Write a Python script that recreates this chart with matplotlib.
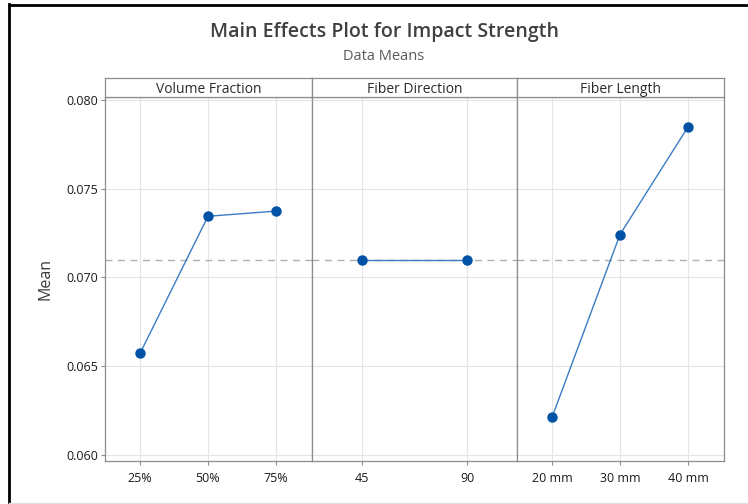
import matplotlib
matplotlib.use("Agg")
import matplotlib.pyplot as plt
from matplotlib.lines import Line2D

# Data
factors = ["Volume Fraction", "Fiber Direction", "Fiber Length"]
vf_levels = ["25%", "50%", "75%"]
vf_means = [0.06572, 0.07345, 0.07374]
fd_levels = ["45", "90"]
fd_means = [0.07101, 0.07101]
fl_levels = ["20 mm", "30 mm", "40 mm"]
fl_means = [0.06212, 0.07242, 0.07848]
grand_mean = 0.07101
y_ticks = [0.060, 0.065, 0.070, 0.075, 0.080]

plt.rcParams['font.family'] = ['Open Sans', 'DejaVu Sans']

fig = plt.figure(figsize=(7.48, 5.04), dpi=100)
W, H = 748.0, 504.0

left, right = 105 / W, 724 / W
bottom, top = 1 - 461 / H, 1 - 97 / H
strip_h = 19 / H
edges = [105, 312, 517, 724]

levels = [vf_levels, fd_levels, fl_levels]
means = [vf_means, fd_means, fl_means]
xlims = [(0.485, 3.53), (0.524, 2.476), (0.485, 3.53)]

frame_col = "#8c8c8c"
grid_col = "#e4e4e4"
text_col = "#1a1a1a"

for i in range(3):
    x0 = edges[i] / W
    w = (edges[i + 1] - edges[i]) / W
    ax = fig.add_axes([x0, bottom, w, top - bottom])
    xs = list(range(1, len(levels[i]) + 1))
    ax.set_xlim(*xlims[i])
    ax.set_ylim(0.05966, 0.08017)
    ax.set_xticks(xs)
    ax.set_xticklabels(levels[i], fontsize=9, color=text_col, fontweight="medium")
    ax.set_yticks(y_ticks)
    ax.grid(True, color=grid_col, linewidth=0.8)
    ax.set_axisbelow(True)
    ax.axhline(grand_mean, color="#b0b0b0", linestyle=(0, (5, 4)), linewidth=1.0, zorder=1)
    ax.plot(xs, means[i], color="#3a7cc3", linewidth=1.0, zorder=2)
    ax.plot(xs, means[i], linestyle="none", marker="o", markersize=6.5,
            color="#0052a5", zorder=3)
    for s in ax.spines.values():
        s.set_color(frame_col)
        s.set_linewidth(0.9)
    ax.tick_params(axis="x", length=3, color=frame_col, pad=5)
    if i == 0:
        ax.set_yticklabels(["0.060", "0.065", "0.070", "0.075", "0.080"],
                           fontsize=9, color=text_col, fontweight="medium")
        ax.tick_params(axis="y", length=3, color=frame_col, pad=2)
        ax.set_ylabel("Mean", fontsize=11.5, color="#3a3a3a", labelpad=9)
    else:
        ax.tick_params(axis="y", length=0, labelleft=False)

    # strip header
    sax = fig.add_axes([x0, top, w, strip_h])
    sax.set_xticks([])
    sax.set_yticks([])
    for s in sax.spines.values():
        s.set_color(frame_col)
        s.set_linewidth(0.9)
    sax.text(0.5, 0.42, factors[i], ha="center", va="center", fontsize=10,
             color="#2a2a2a", transform=sax.transAxes)

fig.text(384 / W, 1 - 32 / H, "Main Effects Plot for Impact Strength",
         ha="center", va="center", fontsize=14, fontweight="semibold", color="#404040")
fig.text(384 / W, 1 - 57 / H, "Data Means", ha="center", va="center",
         fontsize=10.5, color="#5a5a5a")

# black frame around the screenshot (left and top)
fig.add_artist(Line2D([9 / W, 9 / W], [0, 1 - 4 / H], color="black", linewidth=2,
                      transform=fig.transFigure))
fig.add_artist(Line2D([9 / W, 1], [1 - 4.5 / H, 1 - 4.5 / H], color="black", linewidth=2,
                      transform=fig.transFigure))
fig.add_artist(Line2D([9 / W, 1], [1 / H, 1 / H], color="#e0e0e0", linewidth=1,
                      transform=fig.transFigure))

fig.savefig("out.png", dpi=100)
